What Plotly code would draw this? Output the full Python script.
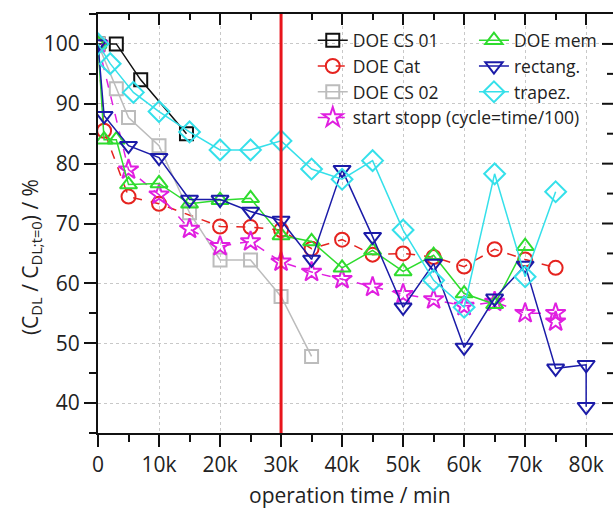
import plotly.graph_objects as go

# ---- data (time in min, value in %) ----
cs01_t = [0, 3000, 7000, 14500]
cs01_v = [100, 100, 94.0, 85.0]

cat_t = [0, 1000, 5000, 10000, 20000, 25000, 30000, 35000, 40000, 45000, 50000, 55000, 60000, 65000, 70000, 75000]
cat_v = [100, 85.5, 74.5, 73.3, 69.5, 69.4, 68.9, 65.8, 67.3, 64.8, 65.0, 64.4, 62.8, 65.7, 64.0, 62.6]

cs02_t = [0, 3000, 5000, 10000, 15000, 20000, 25000, 30000, 35000]
cs02_v = [100, 92.5, 87.7, 83.0, 71.8, 63.9, 63.9, 57.8, 47.8]

ss_t = [0, 5000, 10000, 15000, 20000, 25000, 30000, 35000, 40000, 45000, 50000, 55000, 60000, 65000, 70000, 75000, 75000]
ss_v = [100, 79.0, 74.8, 69.1, 66.2, 67.0, 63.6, 61.9, 60.7, 59.4, 58.2, 57.3, 56.2, 56.9, 55.0, 55.0, 53.6]

mem_t = [0, 1000, 3000, 5000, 10000, 15000, 20000, 25000, 30000, 35000, 40000, 45000, 50000, 55000, 60000, 65000, 70000]
mem_v = [100, 84.0, 84.0, 76.5, 76.7, 73.3, 73.9, 74.2, 68.0, 67.0, 62.6, 65.5, 62.0, 64.7, 58.3, 56.5, 66.2]

rect_t = [0, 1000, 5000, 10000, 15000, 20000, 25000, 30000, 35000, 40000, 45000, 50000, 55000, 60000, 65000, 70000, 75000, 80000, 80000]
rect_v = [100, 88.0, 83.0, 81.0, 74.0, 74.0, 72.0, 70.5, 64.0, 79.0, 67.8, 56.0, 63.3, 49.3, 57.5, 63.0, 45.8, 46.4, 39.4]

trap_t = [0, 2000, 5800, 10000, 15000, 20000, 25000, 30000, 35000, 40000, 45000, 50000, 55000, 60000, 65000, 70000, 75000]
trap_v = [100, 96.7, 91.9, 88.7, 85.3, 82.3, 82.3, 83.8, 79.1, 77.4, 80.5, 68.9, 60.5, 56.0, 78.3, 61.1, 75.3]

x_tickvals = [0, 10000, 20000, 30000, 40000, 50000, 60000, 70000, 80000]
x_ticktext = ["0", "10k", "20k", "30k", "40k", "50k", "60k", "70k", "80k"]
y_tickvals = [40, 50, 60, 70, 80, 90, 100]
marker_time = 30000

FONT = "Open Sans"

# (name, t, v, colour, symbol, size, dash, legend)
series = [
    ("DOE CS 01", cs01_t, cs01_v, "#111111", "square-open", 13, "solid", "legend"),
    ("DOE Cat", cat_t, cat_v, "#e5231f", "circle-open", 14, "dash", "legend"),
    ("DOE CS 02", cs02_t, cs02_v, "#bcbcbc", "square-open", 13, "solid", "legend"),
    ("start stopp (cycle=time/100)", ss_t, ss_v, "#e01fe0", "star-open", 15, "dash", "legend"),
    ("DOE mem", mem_t, mem_v, "#2edc2e", "triangle-up-open", 15, "solid", "legend2"),
    ("rectang.", rect_t, rect_v, "#1b1ba8", "triangle-down-open", 15, "solid", "legend2"),
    ("trapez.", trap_t, trap_v, "#35e0ea", "diamond-open", 16, "solid", "legend2"),
]

fig = go.Figure()
for name, t, v, col, sym, sz, dash, lg in series:
    fig.add_trace(go.Scatter(
        x=t, y=v, name=name, mode="lines+markers", legend=lg,
        line=dict(color=col, width=1.5, dash=dash),
        marker=dict(symbol=sym, size=sz, color=col, line=dict(color=col, width=2)),
    ))

# invisible trace so the mirrored top axis gets drawn
fig.add_trace(go.Scatter(x=[40000], y=[70], xaxis="x2", yaxis="y", mode="markers",
                         marker=dict(opacity=0), showlegend=False, hoverinfo="skip"))

XR = [0, 84400]
YR = [35, 105]
axis_font = dict(family=FONT, size=21, color="#222222")
leg_font = dict(family=FONT, size=17.5, color="#222222")

# right-side inward ticks (mirroring the y axis ticks)
PLOT_W = 614 - 98 - 1
shapes = [dict(type="line", xref="x", yref="paper", x0=marker_time, x1=marker_time, y0=0, y1=1,
               line=dict(color="#e8141b", width=3), layer="above")]
for v in y_tickvals:
    shapes.append(dict(type="line", xref="paper", yref="y", x0=1 - 11 / PLOT_W, x1=1, y0=v, y1=v,
                       line=dict(color="#111111", width=2), layer="above"))
    if v + 5 < YR[1]:
        shapes.append(dict(type="line", xref="paper", yref="y", x0=1 - 6 / PLOT_W, x1=1, y0=v + 5, y1=v + 5,
                           line=dict(color="#111111", width=2), layer="above"))

fig.update_layout(
    width=614, height=512,
    margin=dict(l=98, r=1, t=14, b=79),
    paper_bgcolor="white", plot_bgcolor="white",
    font=dict(family=FONT, color="#222222"),
    xaxis=dict(range=XR, tickvals=x_tickvals, ticktext=x_ticktext, tickfont=axis_font,
               showline=True, linecolor="#111111", linewidth=2,
               ticks="outside", ticklen=12, tickwidth=2, tickcolor="#111111",
               minor=dict(dtick=5000, tick0=0, ticks="outside", ticklen=7, tickwidth=2, tickcolor="#111111", showgrid=False),
               showgrid=True, gridcolor="#c8c8c8", griddash="dot", gridwidth=1,
               zeroline=False),
    yaxis=dict(range=YR, tickvals=y_tickvals, tickfont=axis_font,
               showline=True, linecolor="#111111", linewidth=2,
               ticks="outside", ticklen=12, tickwidth=2, tickcolor="#111111",
               minor=dict(dtick=5, tick0=0, ticks="outside", ticklen=7, tickwidth=2, tickcolor="#111111", showgrid=False),
               showgrid=True, gridcolor="#c8c8c8", griddash="dot", gridwidth=1,
               zeroline=False),
    xaxis2=dict(range=XR, overlaying="x", side="top", anchor="y", showticklabels=False,
                tickvals=x_tickvals, showline=True, linecolor="#111111", linewidth=2,
                ticks="inside", ticklen=11, tickwidth=2, tickcolor="#111111",
                minor=dict(dtick=5000, tick0=0, ticks="inside", ticklen=6, tickwidth=2, tickcolor="#111111"),
                showgrid=False, zeroline=False),
    legend=dict(orientation="v", x=0.417, y=0.98, xanchor="left", yanchor="top",
                font=leg_font, bgcolor="rgba(0,0,0,0)", borderwidth=0, tracegroupgap=0),
    legend2=dict(orientation="v", x=0.73, y=0.98, xanchor="left", yanchor="top",
                 font=leg_font, bgcolor="rgba(0,0,0,0)", borderwidth=0, tracegroupgap=0),
    showlegend=True,
    shapes=shapes,
    annotations=[
        dict(text="operation time / min", xref="paper", yref="paper", x=0.49, y=-0.148,
             xanchor="center", yanchor="middle", showarrow=False, font=dict(family=FONT, size=21, color="#222222")),
        dict(text="(C<sub>DL</sub> / C<sub>DL;t=0</sub>) / %", xref="paper", yref="paper",
             x=-0.13, y=0.42, xanchor="center", yanchor="middle", textangle=-90, showarrow=False,
             font=dict(family=FONT, size=21, color="#222222")),
    ],
)

fig.write_html("out.html")
